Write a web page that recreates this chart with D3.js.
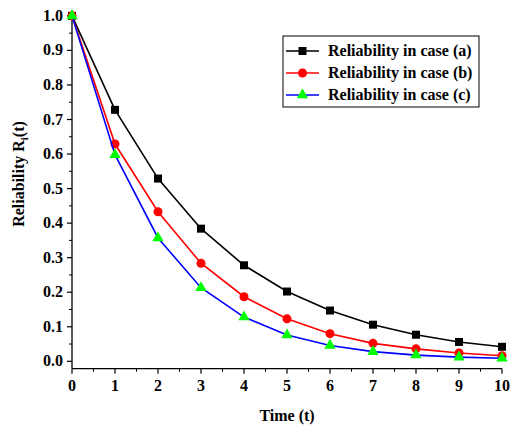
<!DOCTYPE html>
<html>
<head>
<meta charset="utf-8">
<script src="https://cdn.jsdelivr.net/npm/d3@7"></script>
<style>
  body { margin: 0; background: #fff; }
</style>
</head>
<body>
<div id="chart"></div>
<script>
// time points and reliability values
const times = [0, 1, 2, 3, 4, 5, 6, 7, 8, 9, 10];
const caseA = [1.0, 0.728, 0.529, 0.384, 0.278, 0.202, 0.147, 0.106, 0.077, 0.056, 0.042];
const caseB = [1.0, 0.629, 0.433, 0.284, 0.187, 0.123, 0.080, 0.052, 0.036, 0.024, 0.016];
const caseC = [1.0, 0.598, 0.357, 0.213, 0.128, 0.076, 0.046, 0.028, 0.018, 0.012, 0.009];
const seriesNames = ['Reliability in case (a)', 'Reliability in case (b)', 'Reliability in case (c)'];
const xTicks = [0, 1, 2, 3, 4, 5, 6, 7, 8, 9, 10];
const yTicks = [0.0, 0.1, 0.2, 0.3, 0.4, 0.5, 0.6, 0.7, 0.8, 0.9, 1.0];

const width = 510, height = 428;
const serif = "'Liberation Serif', 'Times New Roman', 'DejaVu Serif', serif";

const svg = d3.select('#chart')
    .append('svg')
    .attr('width', width)
    .attr('height', height)
    .attr('font-family', serif)
    .attr('font-weight', 'bold');

// scales
const x = d3.scaleLinear().domain([0, 10]).range([72, 502]);
const y = d3.scaleLinear().domain([-0.0214, 1.017]).range([368.7, 10]);

// x axis
const xAxis = svg.append('g').attr('transform', 'translate(0,368.7)');
xAxis.append('line')
    .attr('x1', x(0)).attr('x2', x(10))
    .attr('stroke', '#000').attr('stroke-width', 1.3);
xAxis.selectAll('.minor')
    .data(d3.range(0.5, 10, 1))
    .enter().append('line')
    .attr('x1', d => x(d)).attr('x2', d => x(d))
    .attr('y1', 0).attr('y2', 3)
    .attr('stroke', '#000').attr('stroke-width', 1);
xAxis.selectAll('.major')
    .data(xTicks)
    .enter().append('line')
    .attr('x1', d => x(d)).attr('x2', d => x(d))
    .attr('y1', 0).attr('y2', 5)
    .attr('stroke', '#000').attr('stroke-width', 1.2);
xAxis.selectAll('text')
    .data(xTicks)
    .enter().append('text')
    .attr('x', d => x(d)).attr('y', 22)
    .attr('text-anchor', 'middle')
    .attr('font-size', 16)
    .text(d => d);

// y axis
const yAxis = svg.append('g').attr('transform', 'translate(72,0)');
yAxis.append('line')
    .attr('y1', y(-0.0214)).attr('y2', 10)
    .attr('stroke', '#000').attr('stroke-width', 1.3);
yAxis.selectAll('.minor')
    .data(d3.range(0.05, 1.0, 0.1))
    .enter().append('line')
    .attr('y1', d => y(d)).attr('y2', d => y(d))
    .attr('x1', 0).attr('x2', -3)
    .attr('stroke', '#000').attr('stroke-width', 1);
yAxis.selectAll('.major')
    .data(yTicks)
    .enter().append('line')
    .attr('y1', d => y(d)).attr('y2', d => y(d))
    .attr('x1', 0).attr('x2', -5)
    .attr('stroke', '#000').attr('stroke-width', 1.2);
yAxis.selectAll('text')
    .data(yTicks)
    .enter().append('text')
    .attr('x', -9).attr('y', d => y(d) + 5)
    .attr('text-anchor', 'end')
    .attr('font-size', 16)
    .text(d => d.toFixed(1));

// axis titles
svg.append('text')
    .attr('x', 287).attr('y', 421)
    .attr('text-anchor', 'middle')
    .attr('font-size', 16)
    .text('Time (t)');

const yTitle = svg.append('text')
    .attr('transform', 'translate(24,174) rotate(-90)')
    .attr('text-anchor', 'middle')
    .attr('font-size', 16);
yTitle.append('tspan').text('Reliability R');
yTitle.append('tspan').attr('font-size', 11).attr('dy', 4).text('i');
yTitle.append('tspan').attr('dy', -4).text('(t)');

// series
const series = [
    { name: seriesNames[0], values: caseA, line: '#000000', fill: '#000000', shape: d3.symbolSquare, size: 64 },
    { name: seriesNames[1], values: caseB, line: '#ff0000', fill: '#ff0000', shape: d3.symbolCircle, size: 64 },
    { name: seriesNames[2], values: caseC, line: '#0000ff', fill: '#00ff00', shape: d3.symbolTriangle, size: 56 }
];

const line = d3.line()
    .x((d, i) => x(times[i]))
    .y(d => y(d));

series.forEach(s => {
    svg.append('path')
        .attr('d', line(s.values))
        .attr('fill', 'none')
        .attr('stroke', s.line)
        .attr('stroke-width', 1.6);
    svg.selectAll(null)
        .data(s.values)
        .enter().append('path')
        .attr('transform', (d, i) => `translate(${x(times[i])},${y(d)})`)
        .attr('d', d3.symbol().type(s.shape).size(s.size))
        .attr('fill', s.fill);
});

// legend
const legend = svg.append('g');
legend.append('rect')
    .attr('x', 283).attr('y', 36)
    .attr('width', 196).attr('height', 71)
    .attr('fill', '#fff').attr('stroke', '#000').attr('stroke-width', 1);
series.forEach((s, i) => {
    const ly = 51 + i * 22;
    legend.append('line')
        .attr('x1', 286).attr('x2', 319)
        .attr('y1', ly).attr('y2', ly)
        .attr('stroke', s.line).attr('stroke-width', 1.6);
    legend.append('path')
        .attr('transform', `translate(302.5,${ly})`)
        .attr('d', d3.symbol().type(s.shape).size(s.size))
        .attr('fill', s.fill);
    legend.append('text')
        .attr('x', 328).attr('y', ly + 5)
        .attr('font-size', 16)
        .text(s.name);
});
</script>
</body>
</html>
